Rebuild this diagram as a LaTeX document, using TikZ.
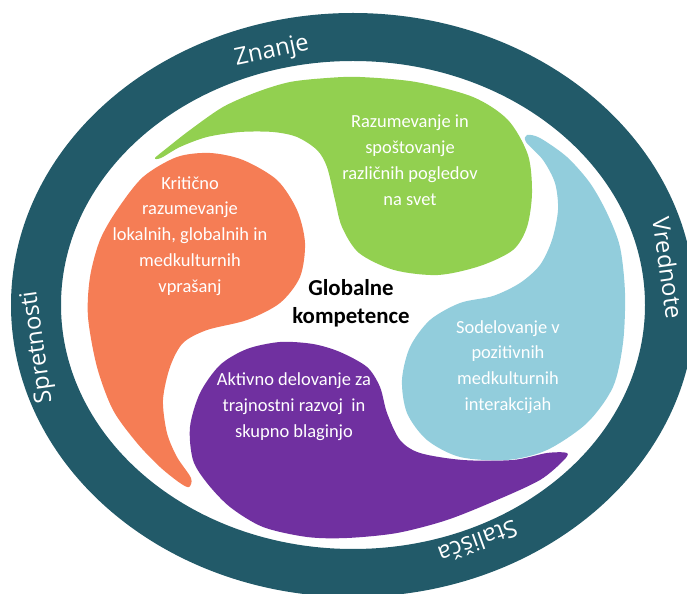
\documentclass[tikz,border=0pt]{standalone}
\usepackage{fontspec}
\setmainfont{Carlito}
\newfontfamily\ringfont{Open Sans}
\definecolor{ringteal}{HTML}{225A69}
\definecolor{leafgreen}{HTML}{92D050}
\definecolor{leafblue}{HTML}{92CDDC}
\definecolor{leafpurple}{HTML}{7030A0}
\definecolor{leaforange}{HTML}{F57D55}

\begin{document}
\begin{tikzpicture}[x=0.02cm,y=-0.02cm,
        leaftext/.style={text=white,align=center,font=\fontsize{10.5}{14.7}\selectfont},
        ringtext/.style={text=white,font=\ringfont\fontsize{13.5}{16}\selectfont}]
    \clip (0,0) rectangle (687,594);
    % outer ring
    \fill[ringteal,even odd rule]
        (353,305) ellipse [x radius=342,y radius=292]
        (353,305) ellipse [x radius=292,y radius=244];

    % four leaves
    \fill[leafgreen] plot[smooth cycle] coordinates {
        (155,158) (167,148) (190,130) (223,107) (257,92) (290,82) (327,78)
        (360,77) (416,82) (473,97) (508,120) (528,155) (532,193) (527,227)
        (513,250) (480,266) (438,275) (394,270) (359,253) (342,227) (335,200)
        (327,167) (317,150) (297,137) (273,132) (240,132) (207,137) (180,147)
        (161,158)};
    \fill[leafblue] plot[smooth cycle] coordinates {
        (527,135) (540,138) (567,157) (590,183) (607,213) (620,247) (625,293)
        (623,343) (613,387) (587,423) (547,450) (507,460) (460,457) (427,440)
        (407,413) (402,380) (410,347) (430,320) (460,303) (493,296) (520,283)
        (540,265) (552,240) (558,210) (555,183) (543,160) (526,142)};
    \fill[leafpurple] plot[smooth cycle] coordinates {
        (567,453) (547,453) (513,460) (463,460) (420,453) (400,440) (387,413)
        (380,387) (367,367) (340,352) (313,344) (280,342) (247,349) (220,365)
        (200,393) (190,427) (193,460) (207,483) (230,507) (263,527) (307,537)
        (347,538) (397,533) (447,520) (497,500) (540,480) (563,461)};
    \fill[leaforange] plot[smooth cycle] coordinates {
        (189,487) (191,478) (177,457) (167,433) (163,400) (170,367) (183,343)
        (207,330) (247,320) (280,303) (300,277) (305,243) (297,210) (277,180)
        (243,160) (210,153) (177,157) (143,177) (117,210) (100,240) (90,277)
        (88,317) (97,367) (113,410) (137,443) (160,467) (180,483)};

    % texts
    \node[leaftext] (green) at (410,160) {Razumevanje in\\spoštovanje\\različnih pogledov\\na svet};
    \node[leaftext] (orange) at (190,236) {Kritično\\razumevanje\\lokalnih, globalnih in\\medkulturnih\\vprašanj};
    \node[leaftext] (blue) at (508,367) {Sodelovanje v\\pozitivnih\\medkulturnih\\interakcijah};
    \node[leaftext] (purple) at (294,407) {Aktivno delovanje za\\trajnostni razvoj~ in\\skupno blaginjo};
    \node[align=center,font=\bfseries\fontsize{13}{15.9}\selectfont] (core) at (351,303) {Globalne\\kompetence};

    \node[ringtext,rotate=12] (znanje) at (272,52) {Znanje};
    \node[ringtext,rotate=-82] (vrednote) at (668,268) {Vrednote};
    \node[ringtext,rotate=200] (stalisca) at (478,542) {Stališča};
    \node[ringtext,rotate=98] (spretnosti) at (38,347) {Spretnosti};
\end{tikzpicture}
\end{document}
